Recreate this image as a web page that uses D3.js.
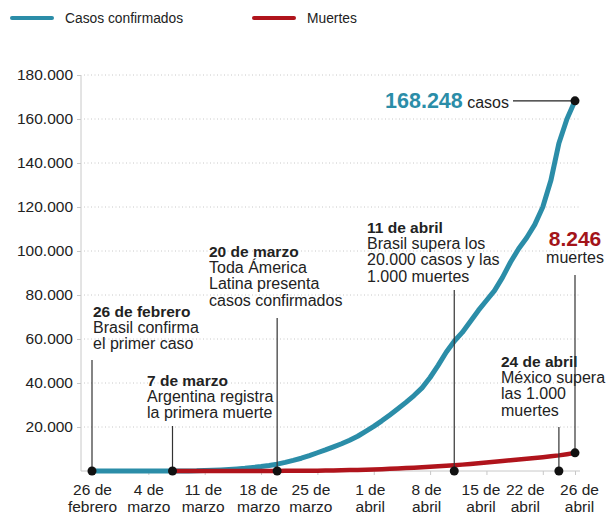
<!DOCTYPE html>
<html>
<head>
<meta charset="utf-8">
<script src="https://cdn.jsdelivr.net/npm/d3@7"></script>
<style>
  body { margin: 0; background: #fff; }
  svg { font-family: "Liberation Sans", Arial, sans-serif; }
</style>
</head>
<body>
<svg id="chart" width="610" height="515"></svg>
<script>
// days since 26 Feb 2020
const inicio = new Date(2020, 1, 26);
const dias = d3.range(0, 61);

// cumulative confirmed cases, Latin America
const casos = [
  1, 1, 2, 2, 3, 4, 6, 8, 12, 16,
  22, 35, 50, 80, 200, 300, 450, 650, 900, 1200,
  1600, 2000, 2500, 3100, 3900, 4800, 5800, 7000, 8300, 9600,
  11000, 12400, 14000, 15800, 18000, 20300, 22800, 25500, 28300, 31200,
  34300, 37800, 42500, 48000, 54000, 59000, 63000, 68000, 73000, 77500,
  82000, 88000, 95000, 101000, 106000, 112000, 120000, 132000, 149000, 160000,
  168248
];

// cumulative deaths, from 7 March
const muertes = [
  null, null, null, null, null, null, null, null, null, null,
  1, 2, 3, 4, 5, 6, 8, 10, 13, 16,
  20, 26, 33, 40, 60, 80, 100, 125, 150, 200,
  250, 320, 400, 500, 600, 720, 850, 1000, 1150, 1320,
  1500, 1700, 1900, 2150, 2400, 2650, 2900, 3200, 3500, 3850,
  4200, 4550, 4900, 5250, 5600, 5950, 6300, 6700, 7100, 7650,
  8246
];

const tickFechas = ['2020-02-26', '2020-03-04', '2020-03-11', '2020-03-18', '2020-03-25',
  '2020-04-01', '2020-04-08', '2020-04-15', '2020-04-22', '2020-04-26'];
const tickEtiquetas = [['26 de', 'febrero'], ['4 de', 'marzo'], ['11 de', 'marzo'], ['18 de', 'marzo'],
  ['25 de', 'marzo'], ['1 de', 'abril'], ['8 de', 'abril'], ['15 de', 'abril'], ['22 de', 'abril'], ['26 de', 'abril']];
// small horizontal nudges of the tick labels, as in the original
const tickDx = [0, 0, -2, -3, -7, -4, -4, -6, -18, 4];
const yTicks = [20000, 40000, 60000, 80000, 100000, 120000, 140000, 160000, 180000];

// events marked on the chart
const eventos = [
  { fecha: '2020-02-26', valor: 0, titulo: '26 de febrero', texto: ['Brasil confirma', 'el primer caso'] },
  { fecha: '2020-03-07', valor: 0, titulo: '7 de marzo', texto: ['Argentina registra', 'la primera muerte'] },
  { fecha: '2020-03-20', valor: 0, titulo: '20 de marzo', texto: ['Toda Ámerica', 'Latina presenta', 'casos confirmados'] },
  { fecha: '2020-04-11', valor: 0, titulo: '11 de abril', texto: ['Brasil supera los', '20.000 casos y las', '1.000 muertes'] },
  { fecha: '2020-04-24', valor: 0, titulo: '24 de abril', texto: ['México supera', 'las 1.000', 'muertes'] }
];
// where each event text sits (x of text left, baseline of title, top of leader line)
const eventoLayout = [
  { tx: 93, ty: 317, lineTop: 360 },
  { tx: 147, ty: 386, lineTop: 426 },
  { tx: 209, ty: 257, lineTop: 318 },
  { tx: 367, ty: 233, lineTop: 290 },
  { tx: 501, ty: 367, lineTop: 427 }
];

const azul = '#2b8da8';
const rojo = '#b0141c';

const svg = d3.select('#chart');
const loc = d3.formatLocale({ decimal: ',', thousands: '.', grouping: [3], currency: ['', ''] });
const fmt = loc.format(',d');
const parse = d3.timeParse('%Y-%m-%d');

const x = d3.scaleTime()
  .domain([inicio, d3.timeDay.offset(inicio, 60)])
  .range([92, 575]);
const y = d3.scaleLinear().domain([0, 180000]).range([471, 75]);

const fecha = d => d3.timeDay.offset(inicio, d);

// legend
const legend = svg.append('g');
[[azul, 'Casos confirmados', 12], [rojo, 'Muertes', 254]].forEach(([c, t, lx]) => {
  legend.append('line')
    .attr('x1', lx).attr('x2', lx + 40).attr('y1', 18).attr('y2', 18)
    .attr('stroke', c).attr('stroke-width', 4).attr('stroke-linecap', 'round');
  legend.append('text')
    .attr('x', lx + 53).attr('y', 23)
    .attr('font-size', 13.8).attr('fill', '#222')
    .text(t);
});

// grid
svg.append('g')
  .selectAll('line')
  .data(yTicks)
  .enter()
  .append('line')
  .attr('x1', 84).attr('x2', 580)
  .attr('y1', d => y(d)).attr('y2', d => y(d))
  .attr('stroke', '#c8c8c8')
  .attr('stroke-dasharray', '1,2.5');

// y axis
const yAxis = svg.append('g')
  .attr('transform', 'translate(81,0)')
  .call(d3.axisLeft(y).tickValues(yTicks).tickFormat(fmt).tickSize(4).tickPadding(4));
yAxis.select('.domain').attr('stroke', '#c8c8c8').attr('d', 'M0,' + y(180000) + 'V' + y(0));
yAxis.selectAll('.tick line').attr('stroke', '#c8c8c8');
yAxis.selectAll('.tick text')
  .attr('font-family', '"Liberation Sans", Arial, sans-serif')
  .attr('font-size', 15.5).attr('fill', '#222');

// x axis
const xAxis = svg.append('g')
  .attr('transform', 'translate(0,' + y(0) + ')')
  .call(d3.axisBottom(x).tickValues(tickFechas.map(parse)).tickSize(4).tickFormat(''));
xAxis.select('.domain').attr('stroke', '#c8c8c8').attr('d', 'M81,0H580');
xAxis.selectAll('.tick line').attr('stroke', '#c8c8c8');
xAxis.selectAll('.tick')
  .each(function(d, i) {
    const t = d3.select(this).select('text')
      .attr('y', 0)
      .attr('dy', null)
      .attr('font-family', '"Liberation Sans", Arial, sans-serif')
      .attr('font-size', 15.5).attr('fill', '#222');
    t.selectAll('tspan')
      .data(tickEtiquetas[i])
      .enter()
      .append('tspan')
      .attr('x', tickDx[i])
      .attr('y', (e, j) => 24 + j * 17)
      .text(e => e);
  });

// lines
const lineCasos = d3.line()
  .x((d, i) => x(fecha(dias[i])))
  .y(d => y(d));
const lineMuertes = d3.line()
  .defined(d => d !== null)
  .x((d, i) => x(fecha(dias[i])))
  .y(d => y(d));

svg.append('path')
  .datum(casos)
  .attr('fill', 'none')
  .attr('stroke', azul)
  .attr('stroke-width', 5)
  .attr('stroke-linejoin', 'round')
  .attr('d', lineCasos);

svg.append('path')
  .datum(muertes)
  .attr('fill', 'none')
  .attr('stroke', rojo)
  .attr('stroke-width', 4.5)
  .attr('stroke-linejoin', 'round')
  .attr('d', lineMuertes);

// event annotations
const ev = svg.append('g');
eventos.forEach((e, i) => {
  const L = eventoLayout[i];
  const ex = x(parse(e.fecha));
  ev.append('line')
    .attr('x1', ex).attr('x2', ex)
    .attr('y1', L.lineTop).attr('y2', y(e.valor))
    .attr('stroke', '#333').attr('stroke-width', 1.2);
  const t = ev.append('text')
    .attr('x', L.tx).attr('y', L.ty)
    .attr('font-size', 16).attr('fill', '#222');
  t.append('tspan').attr('x', L.tx).attr('font-weight', 'bold').attr('font-size', 15.5).text(e.titulo);
  e.texto.forEach(s => {
    t.append('tspan').attr('x', L.tx).attr('dy', 16.2).text(s);
  });
  ev.append('circle')
    .attr('cx', ex).attr('cy', y(e.valor))
    .attr('r', 4.5).attr('fill', '#111');
});

// end labels
const fin = d3.timeDay.offset(inicio, 60);
const ultCasos = casos[casos.length - 1];
const ultMuertes = muertes[muertes.length - 1];

svg.append('line')
  .attr('x1', 513).attr('x2', x(fin))
  .attr('y1', y(ultCasos)).attr('y2', y(ultCasos))
  .attr('stroke', '#222').attr('stroke-width', 1.2);
const tc = svg.append('text')
  .attr('x', 509).attr('y', y(ultCasos) + 7)
  .attr('text-anchor', 'end');
tc.append('tspan').attr('font-size', 21.5).attr('font-weight', 'bold').attr('fill', azul).text(fmt(ultCasos));
tc.append('tspan').attr('font-size', 16).attr('fill', '#222').text(' casos');
svg.append('circle')
  .attr('cx', x(fin)).attr('cy', y(ultCasos))
  .attr('r', 4.5).attr('fill', '#111');

svg.append('line')
  .attr('x1', x(fin)).attr('x2', x(fin))
  .attr('y1', 275).attr('y2', y(ultMuertes))
  .attr('stroke', '#333').attr('stroke-width', 1.2);
svg.append('text')
  .attr('x', 575).attr('y', 246)
  .attr('text-anchor', 'middle')
  .attr('font-size', 21).attr('font-weight', 'bold').attr('fill', '#a3141a')
  .text(fmt(ultMuertes));
svg.append('text')
  .attr('x', 575).attr('y', 263)
  .attr('text-anchor', 'middle')
  .attr('font-size', 16).attr('fill', '#222')
  .text('muertes');
svg.append('circle')
  .attr('cx', x(fin)).attr('cy', y(ultMuertes))
  .attr('r', 4.5).attr('fill', '#111');
</script>
</body>
</html>
